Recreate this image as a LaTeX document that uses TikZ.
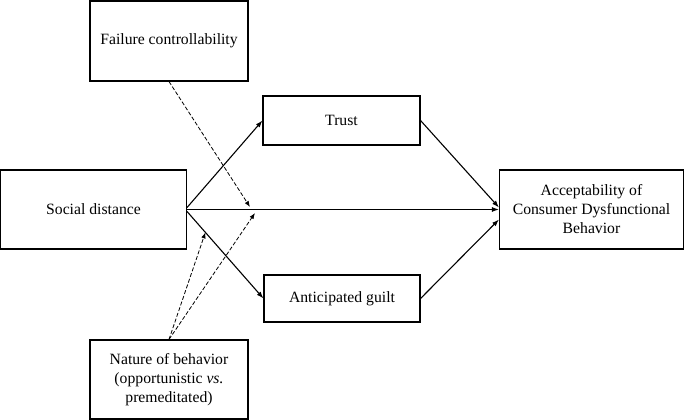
\documentclass[tikz,border=0pt]{standalone}
\usepackage{fontspec}
\setmainfont{Liberation Serif}
\usetikzlibrary{arrows.meta,positioning,calc}
\tikzset{
    var/.style={rectangle, draw, line width=1.1pt, align=center, inner sep=2pt, font=\fontsize{15.7}{19}\selectfont},
    flow/.style={-{Latex[length=7pt,width=5pt]}, line width=1.1pt},
    moder/.style={-{Latex[length=6pt,width=4.5pt]}, line width=0.8pt, dash pattern=on 4pt off 2pt},
}

\begin{document}
\begin{tikzpicture}[x=1pt, y=-1pt]
    \useasboundingbox (0,0) rectangle (685,420);
    \node[var, minimum width=186pt, minimum height=79pt] (social) at (93.5,209.5) {Social distance};
    \node[var, minimum width=157pt, minimum height=49pt] (trust) at (341.5,120.5) {Trust};
    \node[var, minimum width=156pt, minimum height=47pt] (guilt) at (342,298.5) {Anticipated guilt};
    \node[var, minimum width=184pt, minimum height=79pt] (accept) at (591.5,209.5) {Acceptability of\\Consumer Dysfunctional\\Behavior};
    \node[var, minimum width=158pt, minimum height=80pt] (fail) at (169,41) {Failure controllability};
    \node[var, minimum width=158pt, minimum height=79pt] (nature) at (169,379.5) {Nature of behavior\\(opportunistic \textit{vs.}\\premeditated)};

    \draw[flow] ($(social.east)+(0,-2)$) -- (trust.west);
    \draw[flow] ($(social.east)+(0,2)$) -- (guilt.west);
    \draw[flow] (social.east) -- (accept.west);
    \draw[flow] (trust.east) -- ($(accept.west)+(0,-2)$);
    \draw[flow] (guilt.east) -- ($(accept.west)+(0,10)$);

    % moderation paths
    \coordinate (mtop) at (250,207);
    \coordinate (mbot) at (255,213);
    \path ($(social.east)+(0,2)$) -- (guilt.west) coordinate[pos=0.24] (mgul);
    \draw[moder] (fail.south) -- (mtop);
    \draw[moder] (nature.north) -- (mbot);
    \draw[moder] (nature.north) -- (mgul);
\end{tikzpicture}
\end{document}
